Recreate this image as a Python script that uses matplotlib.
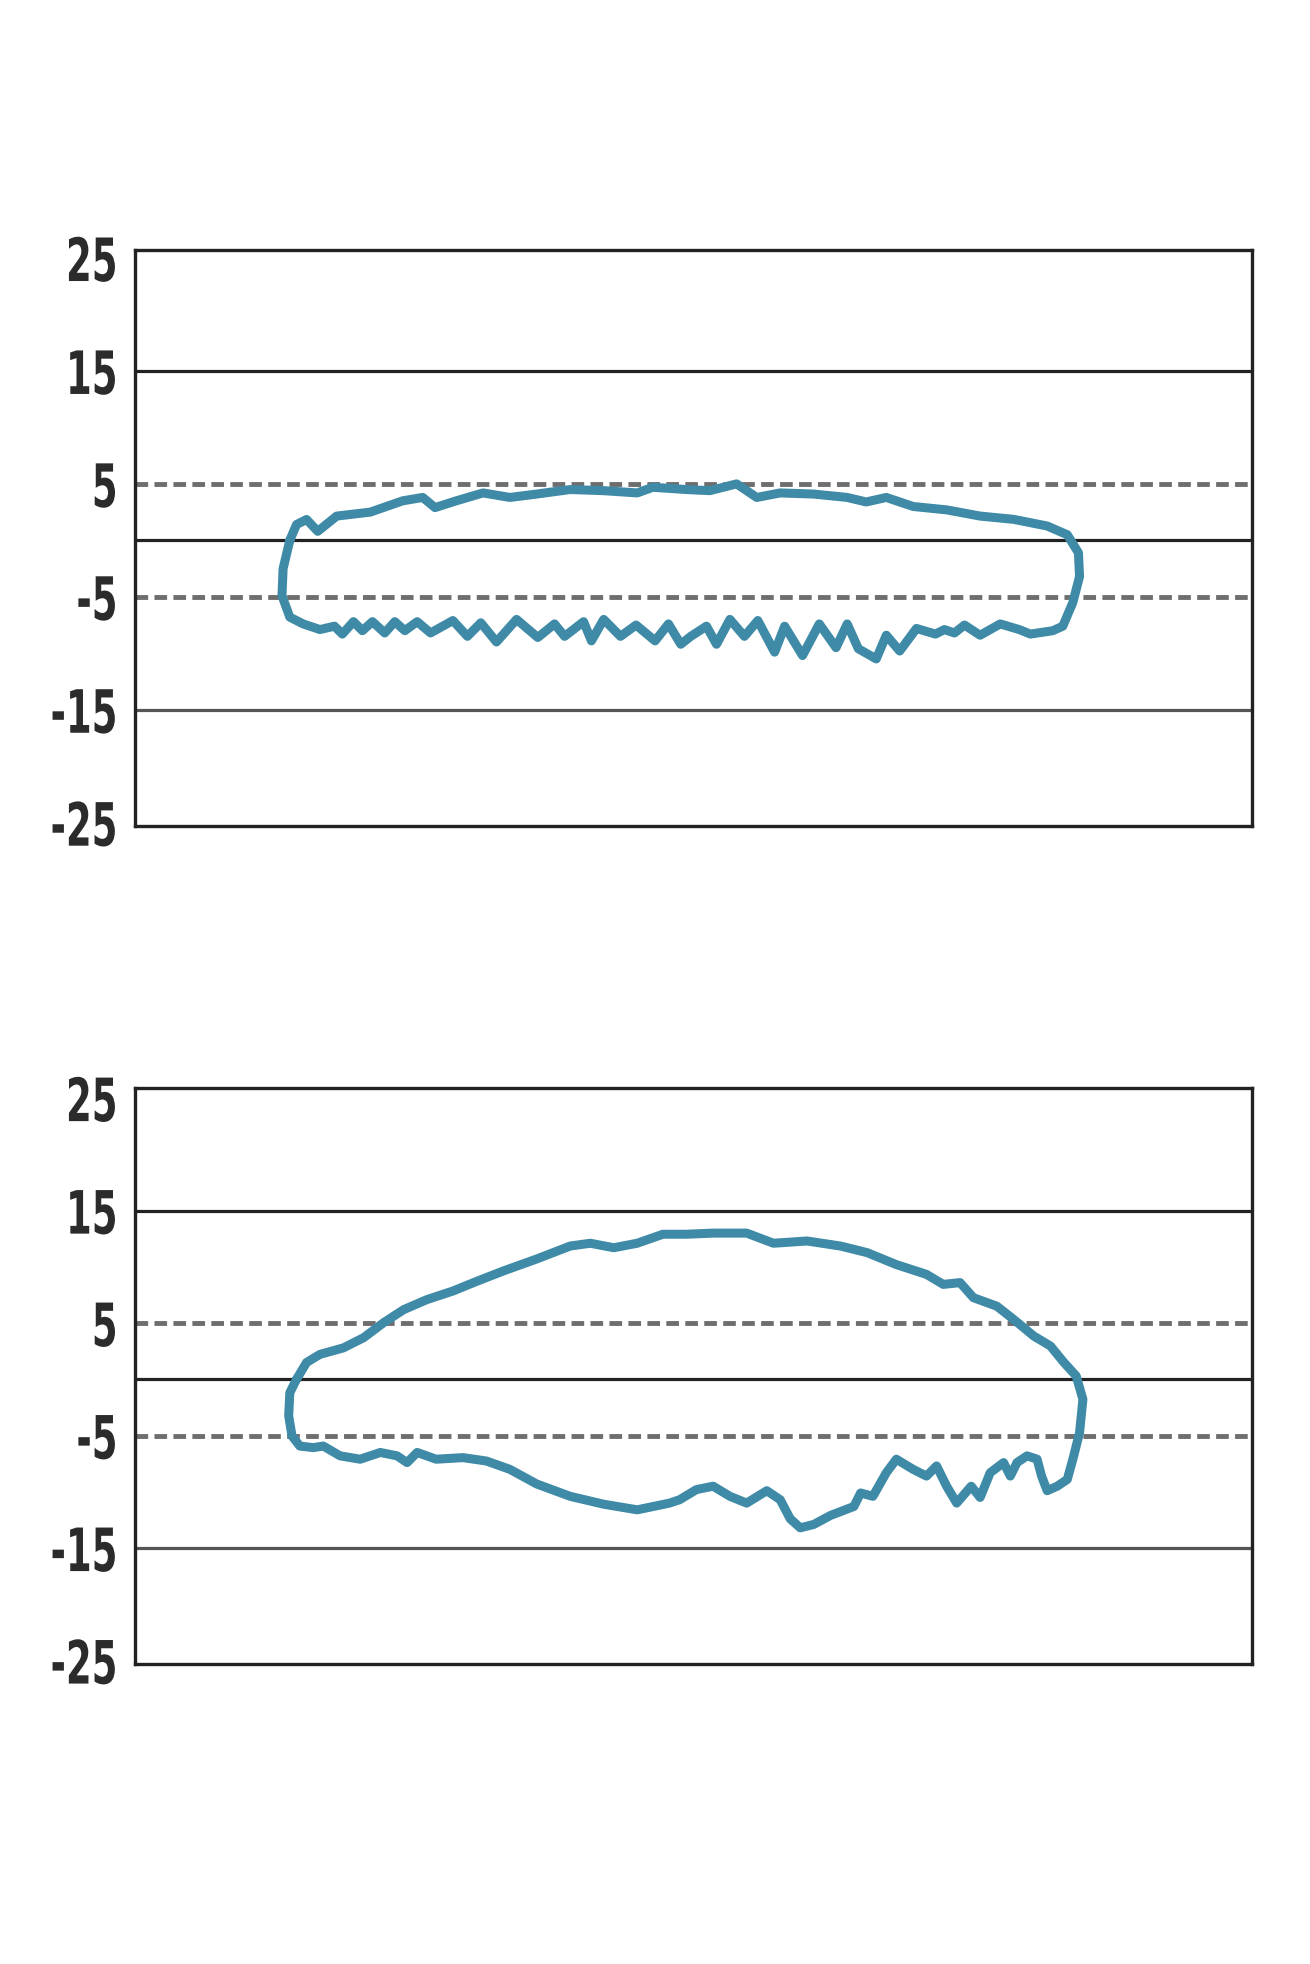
import matplotlib.pyplot as plt
from matplotlib.patheffects import AbstractPathEffect
from matplotlib.transforms import Affine2D

# vòng trên: đường trên (trái -> phải), đường dưới (phải -> trái)
top_upper_x = [13.9, 14.5, 15.4, 16.4, 18.1, 21.1, 24.0, 25.8, 26.9, 28.8, 31.2, 33.6, 36.0, 39.0,
               42.0, 45.0, 46.4, 49.4, 51.5, 53.9, 55.7, 57.8, 60.8, 63.8, 65.5, 67.3, 69.7, 72.7,
               75.7, 78.7, 81.7, 83.5, 84.5, 84.6, 84.0, 83.1]
top_upper_y = [0.0, 1.4, 1.85, 0.8, 2.15, 2.5, 3.5, 3.8, 2.9, 3.5, 4.2, 3.8, 4.1, 4.5,
               4.4, 4.2, 4.7, 4.5, 4.4, 5.0, 3.8, 4.2, 4.1, 3.8, 3.4, 3.8, 3.0, 2.7,
               2.15, 1.86, 1.27, 0.5, -1.1, -3.2, -5.5, -7.6]
top_lower_x = [82.2, 80.2, 79.2, 77.5, 75.7, 74.3, 73.4, 72.5, 71.7, 70.0, 68.5, 67.3, 66.4,
               64.8, 63.8, 62.8, 61.3, 59.8, 58.2, 57.3, 55.8, 54.6, 53.3, 52.1, 51.2, 49.8,
               48.9, 47.8, 46.6, 44.9, 43.5, 42.0, 40.9, 40.2, 38.5, 37.6, 36.1, 34.2,
               32.4, 31.0, 29.8, 28.5, 26.5, 25.3, 24.2, 23.3, 22.4, 21.3, 20.4, 19.6, 18.6,
               17.9, 16.6, 15.1, 14.9, 13.9, 13.2, 13.3]
top_lower_y = [-8.0, -8.3, -7.9, -7.4, -8.4, -7.5, -8.2, -7.9, -8.3, -7.8, -9.8, -8.4, -10.5,
               -9.6, -7.4, -9.5, -7.4, -10.2, -7.6, -9.9, -7.1, -8.5, -7.0, -9.2, -7.6, -8.5,
               -9.2, -7.4, -8.9, -7.5, -8.5, -7.0, -8.9, -7.2, -8.5, -7.4, -8.6, -7.0,
               -9.0, -7.3, -8.5, -7.1, -8.2, -7.2, -8.0, -7.2, -8.2, -7.2, -8.0, -7.2, -8.3,
               -7.6, -7.9, -7.4, -7.3, -6.8, -4.9, -2.5]

# vòng dưới
bot_upper_x = [14.5, 15.4, 16.6, 18.7, 20.5, 22.3, 24.1, 26.2, 28.5, 30.6, 33.0, 36.0, 39.0,
               40.8, 42.9, 45.0, 47.3, 49.4, 51.8, 54.8, 57.2, 60.2, 63.2, 65.6, 68.2, 70.9,
               72.4, 73.9, 75.1, 77.2, 78.7, 80.5, 82.0, 83.2, 84.3, 84.9, 84.6, 84.0, 83.5]
bot_upper_y = [0.0, 1.5, 2.22, 2.8, 3.7, 5.04, 6.2, 7.1, 7.85, 8.7, 9.63, 10.7, 11.85,
               12.1, 11.7, 12.1, 12.9, 12.9, 13.0, 13.0, 12.1, 12.3, 11.85, 11.26, 10.2, 9.33,
               8.44, 8.6, 7.26, 6.5, 5.33, 3.85, 2.96, 1.5, 0.3, -1.78, -4.74, -7.1, -8.9]
bot_lower_x = [82.6, 81.7, 81.2, 80.8, 79.9, 79.0, 78.4, 77.8, 76.6, 75.7, 74.9, 73.6, 72.7,
               71.8, 70.9, 69.7, 68.2, 67.3, 66.1, 65.0, 64.4, 62.3, 60.8, 59.6, 58.7, 57.8,
               56.6, 54.8, 53.3, 51.8, 50.3, 48.8, 47.9, 45.0, 42.0, 39.0, 36.0, 33.6, 31.5,
               29.4, 27.0, 25.3, 24.4, 23.5, 22.0, 20.2, 18.4, 16.9, 16.0, 14.8, 14.1, 13.8,
               13.9]
bot_lower_y = [-9.5, -9.9, -8.6, -7.1, -6.8, -7.4, -8.6, -7.4, -8.3, -10.5, -9.5, -11.0, -9.5,
               -7.7, -8.6, -8.0, -7.1, -8.3, -10.4, -10.1, -11.3, -12.1, -12.9, -13.2, -12.4, -10.7,
               -9.9, -11.0, -10.4, -9.5, -9.8, -10.7, -11.0, -11.6, -11.1, -10.4, -9.3, -8.0, -7.26,
               -6.96, -7.1, -6.5, -7.4, -6.8, -6.5, -7.1, -6.8, -5.93, -6.07, -5.93, -5.04, -3.26,
               -1.19]

yticks = [25, 15, 5, -5, -15, -25]
ytick_labels = ['25', '15', '5', '-5', '-15', '-25']
solid_levels = [15, 0, -15]
dashed_levels = [5, -5]

line_color = '#3f8aa6'


# ép chữ hẹp lại (giống font condensed), giữ mép phải cố định
class NarrowText(AbstractPathEffect):
    def __init__(self, sx):
        super().__init__()
        self.sx = sx

    def draw_path(self, renderer, gc, tpath, affine, rgbFace=None):
        w = tpath.vertices[:, 0].max()
        squeeze = Affine2D().translate(-w, 0).scale(self.sx, 1).translate(w, 0)
        renderer.draw_path(gc, tpath, squeeze + affine, rgbFace)


fig = plt.figure(figsize=(13.1, 19.65), dpi=100)
ax1 = fig.add_axes([0.1027, 0.5791, 0.8527, 0.2931])
ax2 = fig.add_axes([0.1027, 0.1527, 0.8527, 0.2931])

panels = [
    (ax1, top_upper_x + top_lower_x, top_upper_y + top_lower_y, (-25.3, 25.7)),
    (ax2, bot_upper_x + bot_lower_x, bot_upper_y + bot_lower_y, (-25.3, 25.9)),
]

for ax, xs, ys, ylim in panels:
    for lv in solid_levels:
        c = '#555555' if lv < 0 else '#222222'
        ax.axhline(lv, color=c, lw=2.3, zorder=1)
    for lv in dashed_levels:
        ax.axhline(lv, color='#6e6e6e', lw=3.5, dashes=(2.6, 1.3), zorder=1)
    # khép kín vòng
    ax.plot(xs + xs[:1], ys + ys[:1], color=line_color, lw=6.5,
            solid_joinstyle='round', solid_capstyle='round', zorder=3)
    ax.set_xlim(0, 100)
    ax.set_ylim(*ylim)
    ax.set_xticks([])
    ax.set_yticks(yticks)
    labels = ax.set_yticklabels(ytick_labels, family='DejaVu Sans', fontweight='bold',
                                fontsize=43, color='#2b2b2b')
    for lbl in labels:
        lbl.set_path_effects([NarrowText(0.62)])
    ax.tick_params(axis='y', length=0, pad=11)
    for sp in ax.spines.values():
        sp.set_linewidth(2.4)
        sp.set_color('#222222')

fig.savefig('out.png', dpi=100, facecolor='white')
